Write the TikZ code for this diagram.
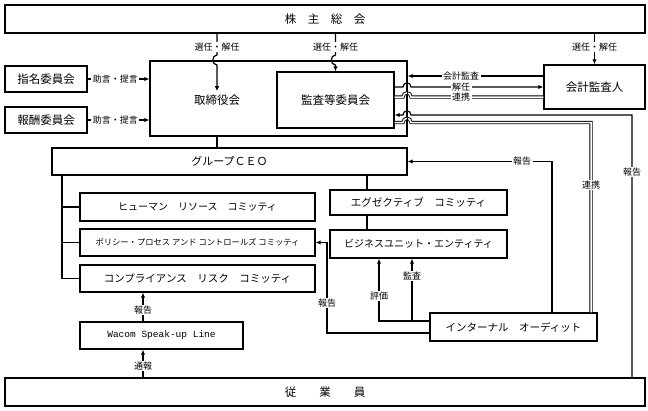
\documentclass[tikz,border=0pt]{standalone}
\usepackage{fontspec}
\setmainfont{Noto Sans CJK JP}
\setmonofont{Liberation Mono}
\usetikzlibrary{positioning, arrows.meta}

\begin{document}
\begin{tikzpicture}[x=1pt, y=-1pt,
      box/.style={draw, line width=1.4pt, inner sep=0pt,
                  font=\fontsize{11.5}{13}\selectfont},
      cbox/.style={box, font=\fontsize{10.5}{12}\selectfont},
      lbl/.style={fill=white, inner xsep=1.5pt, inner ysep=1pt,
                  font=\fontsize{9}{10}\selectfont},
      ln/.style={line width=1.2pt},
      arr/.style={ln, -{Latex[length=5pt, width=4.5pt]}},
      dbl/.style={line width=0.9pt, double, double distance=1.5pt}]
    \useasboundingbox (0,0) rectangle (648,410);
    \fill[white] (0,0) rectangle (648,410);
    % boxes
    \node[box, minimum width=640, minimum height=28] (gm) at (325,19) {株　主　総　会};
    \node[box, minimum width=257, minimum height=75] (bod) at (278.5,98.5) {};
    \node[font=\fontsize{11.5}{13}\selectfont] (bodt) at (217,100) {取締役会};
    \node[box, minimum width=117, minimum height=56] (acm) at (335.5,100) {監査等委員会};
    \node[box, minimum width=101, minimum height=44] (ea) at (594.5,87) {会計監査人};
    \node[box, minimum width=82, minimum height=26] (nom) at (46,79) {指名委員会};
    \node[box, minimum width=82, minimum height=26] (rem) at (46,120) {報酬委員会};
    \node[box, font=\fontsize{11}{13}\selectfont, minimum width=355, minimum height=27] (ceo) at (229.5,161.5) {グループＣＥＯ};
    \node[cbox, font=\fontsize{10}{12}\selectfont, minimum width=235, minimum height=28] (hrc) at (197.5,207) {ヒューマン　リソース　コミッティ};
    \node[cbox, font=\fontsize{8.3}{10}\selectfont, minimum width=235, minimum height=27] (pcc) at (197.5,242.5) {ポリシー・プロセス アンド コントロールズ コミッティ};
    \node[cbox, minimum width=235, minimum height=27] (crc) at (197.5,278.5) {コンプライアンス　リスク　コミッティ};
    \node[cbox, minimum width=177, minimum height=25] (exc) at (418.5,202.5) {エグゼクティブ　コミッティ};
    \node[cbox, font=\fontsize{10}{12}\selectfont, minimum width=177, minimum height=28] (bu) at (418.5,244) {ビジネスユニット・エンティティ};
    \node[cbox, minimum width=167, minimum height=28] (ia) at (513.5,327) {インターナル　オーディット};
    \node[box, font=\ttfamily\fontsize{9.5}{11}\selectfont, minimum width=163, minimum height=27] (spk) at (161.5,335.5) {Wacom Speak-up Line};
    \node[box, minimum width=640, minimum height=28] (emp) at (325,392) {従　　業　　員};

    % turning points
    \coordinate (c1) at (62,175);
    \coordinate (c2) at (367,175);
    \coordinate (c3) at (143,300);
    \coordinate (h1) at (461,76);
    \coordinate (h2) at (461,87);
    \coordinate (h3) at (461,97);
    \coordinate (r1) at (632,115);
    \coordinate (r2) at (591,122.5);
    \coordinate (r3) at (552,162);
    \coordinate (r4) at (327,333);
    \coordinate (r5) at (379,321);
    \coordinate (r6) at (412,321);

    % shareholders
    \draw[arr] (gm.south -| bodt) -- (217,55) .. controls (211.5,55) and (211.5,65) .. (217,65) -- (bodt.north);
    \draw[arr] (gm.south -| acm) -- (335.5,55) .. controls (330,55) and (330,65) .. (335.5,65) -- (acm.north);
    \draw[arr] (gm.south -| ea) -- (ea.north);
    \foreach \x/\n in {217/s1, 335.5/s2, 594.5/s3}
      \node[lbl] (\n) at (\x,47) {選任・解任};

    % committees -> board
    \draw[arr] (nom.east) -- node[lbl, pos=0.45] (a1) {助言・提言} (nom.east -| bod.west);
    \draw[arr] (rem.east) -- node[lbl, pos=0.45] (a2) {助言・提言} (rem.east -| bod.west);

    % accounting auditor
    \draw[arr] (ea.west |- h1) -- (bod.east |- h1);
    \draw[arr] (acm.east |- h2) -- (403,87) .. controls (403,81.5) and (411,81.5) .. (411,87) -- (ea.west |- h2);
    \draw[dbl] (acm.east |- h3) -- (403,97) .. controls (403,91.5) and (411,91.5) .. (411,97) -- (ea.west |- h3);
    \node[lbl] (t1) at (h1) {会計監査};
    \node[lbl] (t2) at (h2) {解任};
    \node[lbl] (t3) at (h3) {連携};

    % reports to the audit committee
    \draw[arr] (emp.north -| r1) -- (r1) -- (411,115) .. controls (411,109.5) and (403,109.5) .. (403,115) -- (acm.east |- r1);
    \draw[dbl] (ia.north -| r2) -- (r2) -- (411,122.5) .. controls (411,117) and (403,117) .. (403,122.5) -- (acm.east |- r2);
    \draw[line width=1.4pt] (bod.north east) -- (bod.south east);
    \node[lbl] (t4) at (632,172) {報告};
    \node[lbl] (t5) at (591,185) {連携};

    % internal audit
    \draw[arr] (ia.north -| r3) |- (ceo.east);
    \node[lbl] (t6) at (522,161.5) {報告};
    \draw[arr] (ia.west |- r4) -- (r4) |- (pcc.east);
    \node[lbl] (t7) at (327,303) {報告};
    \draw[arr] (ia.west |- r5) -- (r5) -- (r5 |- bu.south);
    \draw[arr] (r6) -- (r6 |- bu.south);
    \node[lbl] (t8) at (379,296) {評価};
    \node[lbl] (t9) at (412,276) {監査};

    % executive line
    \draw[ln] (bod.south -| bodt) -- (ceo.north -| bodt);
    \draw[ln] (ceo.south -| c2) -- (exc.north -| c2);
    \draw[ln] (exc.south -| c2) -- (bu.north -| c2);
    \draw[ln] (c1) |- (crc.west);
    \foreach \n in {hrc,pcc}
      \draw[ln] (c1 |- \n.west) -- (\n.west);

    % speak-up line
    \draw[arr] (spk.north -| c3) -- (crc.south -| c3);
    \draw[arr] (emp.north -| c3) -- (spk.south -| c3);
    \node[lbl] (t10) at (143,310) {報告};
    \node[lbl] (t11) at (143,366) {通報};
  \end{tikzpicture}
\end{document}
